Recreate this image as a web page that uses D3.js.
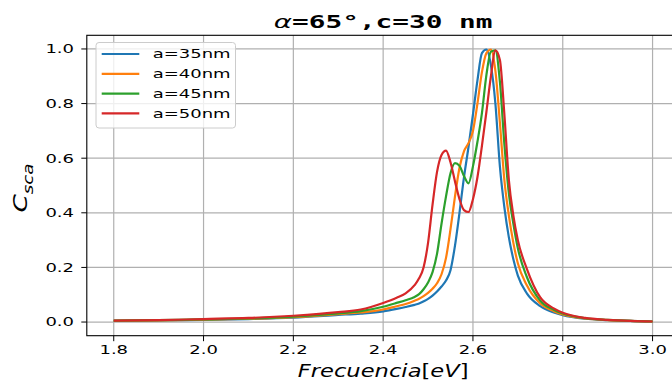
<!DOCTYPE html>
<html>
<head>
<meta charset="utf-8">
<script src="https://cdn.jsdelivr.net/npm/d3@7.9.0/dist/d3.min.js"></script>
<style>
  html, body { margin: 0; padding: 0; background: #fff; }
  svg { display: block; }
</style>
</head>
<body>
<svg id="chart" width="672" height="383"></svg>
<script>
// energy grid (eV) shared by every curve
const freq = [1.80, 1.90, 2.00, 2.10, 2.20, 2.30, 2.35, 2.40, 2.43, 2.45, 2.47, 2.48, 2.49, 2.50,
  2.51, 2.52, 2.53, 2.54, 2.55, 2.56, 2.57, 2.58, 2.59, 2.60, 2.61, 2.62, 2.63, 2.64, 2.65,
  2.66, 2.67, 2.68, 2.69, 2.70, 2.72, 2.75, 2.78, 2.80, 2.85, 2.90, 2.95, 3.00];

const a35 = [0.004, 0.006, 0.008, 0.011, 0.016, 0.026, 0.031, 0.039, 0.048, 0.055, 0.063, 0.068, 0.076, 0.085,
  0.097, 0.112, 0.130, 0.152, 0.190, 0.280, 0.400, 0.530, 0.640, 0.760, 0.885, 0.985, 0.998, 0.940, 0.800,
  0.570, 0.420, 0.310, 0.230, 0.170, 0.105, 0.058, 0.035, 0.025, 0.012, 0.007, 0.004, 0.002];

const a40 = [0.004, 0.006, 0.009, 0.012, 0.018, 0.029, 0.035, 0.046, 0.058, 0.066, 0.078, 0.085, 0.095, 0.107,
  0.122, 0.142, 0.175, 0.235, 0.340, 0.460, 0.565, 0.625, 0.655, 0.700, 0.800, 0.915, 0.985, 0.998, 0.920,
  0.730, 0.520, 0.390, 0.290, 0.215, 0.135, 0.068, 0.040, 0.028, 0.013, 0.007, 0.004, 0.002];

const a45 = [0.005, 0.007, 0.010, 0.013, 0.020, 0.032, 0.040, 0.056, 0.070, 0.080, 0.092, 0.102, 0.120, 0.145,
  0.183, 0.250, 0.360, 0.460, 0.545, 0.582, 0.572, 0.535, 0.508, 0.570, 0.660, 0.765, 0.905, 0.990, 0.995,
  0.880, 0.650, 0.470, 0.360, 0.270, 0.165, 0.078, 0.045, 0.031, 0.014, 0.008, 0.004, 0.002];

const a50 = [0.005, 0.007, 0.011, 0.015, 0.023, 0.036, 0.046, 0.070, 0.089, 0.105, 0.135, 0.160, 0.200, 0.290,
  0.430, 0.550, 0.612, 0.628, 0.585, 0.515, 0.450, 0.410, 0.403, 0.450, 0.530, 0.645, 0.770, 0.900, 0.995,
  0.960, 0.760, 0.520, 0.390, 0.300, 0.195, 0.090, 0.050, 0.034, 0.015, 0.008, 0.004, 0.002];

const seriesNames = ['a=35nm', 'a=40nm', 'a=45nm', 'a=50nm'];
const seriesValues = [a35, a40, a45, a50];
const colors = ['#1f77b4', '#ff7f0e', '#2ca02c', '#d62728'];

const xTicks = [1.8, 2.0, 2.2, 2.4, 2.6, 2.8, 3.0];
const yTicks = [0.0, 0.2, 0.4, 0.6, 0.8, 1.0];

const svg = d3.select('#chart');
const font = 'DejaVu Sans, sans-serif';
const stretch = 1.5;   // glyphs in the reference are drawn wide

const x = d3.scaleLinear().domain([1.74, 3.06]).range([86.8, 679.5]);
const y = d3.scaleLinear().domain([-0.05, 1.05]).range([335.7, 35.3]);

// wide text: position, then rotate, then stretch along the text direction
function wideText(parent, px, py, rot, sx) {
  return parent.append('text')
    .attr('transform', `translate(${px},${py}) rotate(${rot}) scale(${sx},1)`)
    .attr('font-family', font)
    .attr('fill', '#000');
}

// clip for the plot area
svg.append('clipPath').attr('id', 'plotclip')
  .append('rect')
  .attr('x', x.range()[0]).attr('y', y.range()[1])
  .attr('width', x.range()[1] - x.range()[0])
  .attr('height', y.range()[0] - y.range()[1]);

// grid
const grid = svg.append('g').attr('stroke', '#b0b0b0').attr('stroke-width', 1.2);
xTicks.forEach(t => grid.append('line')
  .attr('x1', x(t)).attr('x2', x(t)).attr('y1', y.range()[0]).attr('y2', y.range()[1]));
yTicks.forEach(t => grid.append('line')
  .attr('x1', x.range()[0]).attr('x2', x.range()[1]).attr('y1', y(t)).attr('y2', y(t)));

// curves
const line = d3.line()
  .x((d, i) => x(freq[i]))
  .y(d => y(d))
  .curve(d3.curveMonotoneX);

const curves = svg.append('g').attr('clip-path', 'url(#plotclip)');
seriesValues.forEach((vals, i) => {
  curves.append('path')
    .attr('d', line(vals))
    .attr('fill', 'none')
    .attr('stroke', colors[i])
    .attr('stroke-width', 2.2)
    .attr('stroke-linejoin', 'round');
});

// spines
svg.append('rect')
  .attr('x', x.range()[0]).attr('y', y.range()[1])
  .attr('width', x.range()[1] - x.range()[0])
  .attr('height', y.range()[0] - y.range()[1])
  .attr('fill', 'none').attr('stroke', '#000').attr('stroke-width', 1.1);

// ticks + labels
const axes = svg.append('g');
xTicks.forEach(t => {
  axes.append('line')
    .attr('x1', x(t)).attr('x2', x(t))
    .attr('y1', y.range()[0]).attr('y2', y.range()[0] + 5.5)
    .attr('stroke', '#000').attr('stroke-width', 1);
  wideText(axes, x(t), 353.5, 0, stretch)
    .attr('font-size', 12)
    .attr('text-anchor', 'middle')
    .text(t.toFixed(1));
});
yTicks.forEach(t => {
  axes.append('line')
    .attr('x1', x.range()[0] - 5.5).attr('x2', x.range()[0])
    .attr('y1', y(t)).attr('y2', y(t))
    .attr('stroke', '#000').attr('stroke-width', 1);
  wideText(axes, 74, y(t) + 4.4, 0, stretch)
    .attr('font-size', 12)
    .attr('text-anchor', 'end')
    .text(t.toFixed(1));
});

// title
const title = wideText(svg, (x.range()[0] + x.range()[1]) / 2, 28, 0, 1.5)
  .attr('font-size', 18.5)
  .attr('text-anchor', 'middle');
title.append('tspan')
  .attr('font-family', font).attr('font-style', 'italic')
  .text('α');
title.append('tspan')
  .attr('font-family', 'DejaVu Sans Mono, monospace').attr('font-weight', 'bold')
  .text('=65°,c=30 nm');

// x label
const xl = wideText(svg, (x.range()[0] + x.range()[1]) / 2, 377, 0, 1.33)
  .attr('font-size', 17)
  .attr('text-anchor', 'middle');
xl.append('tspan').attr('font-style', 'italic').text('Frecuencia');
xl.append('tspan').text('[');
xl.append('tspan').attr('font-style', 'italic').text('eV');
xl.append('tspan').text(']');

// y label
const yl = wideText(svg, 26.5, 188, -90, 1.38)
  .attr('font-size', 19)
  .attr('text-anchor', 'middle');
yl.append('tspan').attr('font-style', 'italic').text('C');
yl.append('tspan').attr('font-style', 'italic').attr('font-size', 13.3).attr('dy', 6).text('sca');

// legend
const legend = svg.append('g');
legend.append('rect')
  .attr('x', 96).attr('y', 42.5).attr('width', 139.5).attr('height', 85.5)
  .attr('rx', 3)
  .attr('fill', '#fff').attr('fill-opacity', 0.8)
  .attr('stroke', '#cccccc').attr('stroke-width', 1);
seriesNames.forEach((name, i) => {
  const cy = 54 + i * 19.8;
  legend.append('line')
    .attr('x1', 101.7).attr('x2', 139.3).attr('y1', cy).attr('y2', cy)
    .attr('stroke', colors[i]).attr('stroke-width', 2.2);
  wideText(legend, 152.7, cy + 4.4, 0, stretch)
    .attr('font-size', 12)
    .text(name);
});
</script>
</body>
</html>
